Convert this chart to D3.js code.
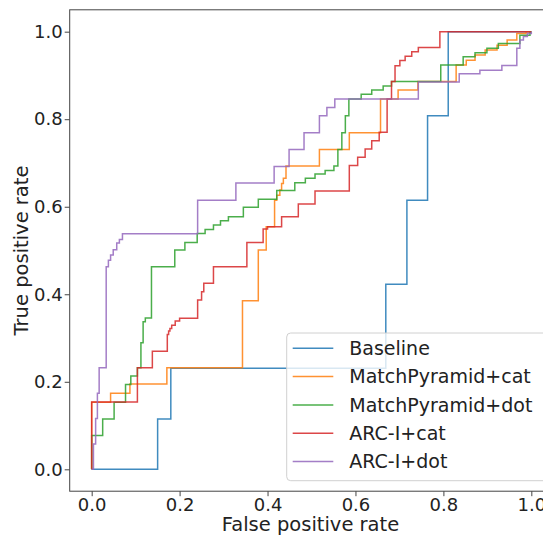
<!DOCTYPE html>
<html>
<head>
<meta charset="utf-8">
<script src="https://cdn.jsdelivr.net/npm/d3@7"></script>
<style>
  body { margin: 0; background: #fff; }
  svg { display: block; font-family: "DejaVu Sans", sans-serif; }
</style>
</head>
<body>
<svg></svg>
<script>
var width = 543;
var height = 536;

// ROC points [fpr, tpr]
var baseline = [
  [0, 0], [0.15, 0], [0.15, 0.115], [0.18, 0.115], [0.18, 0.231], [0.669, 0.231],
  [0.669, 0.423], [0.717, 0.423], [0.717, 0.615], [0.764, 0.615], [0.764, 0.808],
  [0.811, 0.808], [0.811, 1], [1, 1]
];

var mpCat = [
  [0, 0], [0, 0.153], [0.043, 0.153], [0.043, 0.174], [0.087, 0.174], [0.087, 0.195],
  [0.171, 0.195], [0.171, 0.232], [0.343, 0.232], [0.343, 0.385], [0.379, 0.385],
  [0.379, 0.501], [0.397, 0.501], [0.397, 0.554], [0.416, 0.554], [0.416, 0.615],
  [0.421, 0.615], [0.421, 0.626], [0.428, 0.626], [0.428, 0.638], [0.432, 0.638],
  [0.432, 0.653], [0.436, 0.653], [0.436, 0.665], [0.442, 0.665], [0.442, 0.693],
  [0.518, 0.693], [0.518, 0.731], [0.586, 0.731], [0.586, 0.769], [0.657, 0.769],
  [0.657, 0.846], [0.697, 0.846], [0.697, 0.867], [0.742, 0.867], [0.742, 0.886],
  [0.829, 0.886], [0.829, 0.924], [0.852, 0.924], [0.852, 0.935], [0.872, 0.935],
  [0.872, 0.947], [0.895, 0.947], [0.895, 0.958], [0.922, 0.958], [0.922, 0.969],
  [0.945, 0.969], [0.945, 0.981], [0.967, 0.981], [0.967, 0.996], [0.988, 0.996],
  [0.988, 1], [1, 1]
];

var mpDot = [
  [0, 0], [0, 0.077], [0.025, 0.077], [0.025, 0.115], [0.051, 0.115], [0.051, 0.153],
  [0.077, 0.153], [0.077, 0.194], [0.089, 0.194], [0.089, 0.213], [0.104, 0.213],
  [0.104, 0.232], [0.112, 0.232], [0.112, 0.289], [0.117, 0.289], [0.117, 0.337],
  [0.122, 0.337], [0.122, 0.346], [0.136, 0.346], [0.136, 0.463], [0.189, 0.463],
  [0.189, 0.501], [0.212, 0.501], [0.212, 0.518], [0.240, 0.518], [0.240, 0.539],
  [0.258, 0.539], [0.258, 0.548], [0.277, 0.548], [0.277, 0.558], [0.293, 0.558],
  [0.293, 0.568], [0.311, 0.568], [0.311, 0.577], [0.345, 0.577], [0.345, 0.599],
  [0.379, 0.599], [0.379, 0.617], [0.421, 0.617], [0.421, 0.637], [0.462, 0.637],
  [0.462, 0.655], [0.486, 0.655], [0.486, 0.665], [0.508, 0.665], [0.508, 0.675],
  [0.531, 0.675], [0.531, 0.683], [0.551, 0.683], [0.551, 0.693], [0.560, 0.693],
  [0.560, 0.731], [0.569, 0.731], [0.569, 0.769], [0.577, 0.769], [0.577, 0.808],
  [0.585, 0.808], [0.585, 0.846], [0.613, 0.846], [0.613, 0.857], [0.637, 0.857],
  [0.637, 0.867], [0.663, 0.867], [0.663, 0.876], [0.682, 0.876], [0.682, 0.886],
  [0.794, 0.886], [0.794, 0.924], [0.845, 0.924], [0.845, 0.943], [0.872, 0.943],
  [0.872, 0.952], [0.899, 0.952], [0.899, 0.962], [0.925, 0.962], [0.925, 0.973],
  [0.974, 0.973], [0.974, 0.992], [0.997, 0.992], [0.997, 1], [1, 1]
];

var arcCat = [
  [0, 0], [0, 0.154], [0.104, 0.154], [0.104, 0.232], [0.138, 0.232], [0.138, 0.270],
  [0.172, 0.270], [0.172, 0.308], [0.175, 0.308], [0.175, 0.316], [0.178, 0.316],
  [0.178, 0.322], [0.182, 0.322], [0.182, 0.329], [0.190, 0.329], [0.190, 0.339],
  [0.200, 0.339], [0.200, 0.345], [0.241, 0.345], [0.241, 0.387], [0.250, 0.387],
  [0.250, 0.406], [0.255, 0.406], [0.255, 0.425], [0.277, 0.425], [0.277, 0.463],
  [0.353, 0.463], [0.353, 0.518], [0.390, 0.518], [0.390, 0.549], [0.400, 0.549],
  [0.400, 0.554], [0.432, 0.554], [0.432, 0.577], [0.470, 0.577], [0.470, 0.606],
  [0.508, 0.606], [0.508, 0.636], [0.586, 0.636], [0.586, 0.694], [0.605, 0.694],
  [0.605, 0.713], [0.622, 0.713], [0.622, 0.732], [0.637, 0.732], [0.637, 0.751],
  [0.654, 0.751], [0.654, 0.770], [0.672, 0.770], [0.672, 0.846], [0.682, 0.846],
  [0.682, 0.886], [0.690, 0.886], [0.690, 0.922], [0.701, 0.922], [0.701, 0.934],
  [0.713, 0.934], [0.713, 0.944], [0.728, 0.944], [0.728, 0.954], [0.743, 0.954],
  [0.743, 0.964], [0.792, 0.964], [0.792, 1], [1, 1]
];

var arcDot = [
  [0, 0], [0.004, 0], [0.004, 0.058], [0.009, 0.058], [0.009, 0.116], [0.013, 0.116],
  [0.013, 0.174], [0.017, 0.174], [0.017, 0.232], [0.033, 0.232], [0.033, 0.463],
  [0.038, 0.463], [0.038, 0.478], [0.043, 0.478], [0.043, 0.490], [0.049, 0.490],
  [0.049, 0.502], [0.057, 0.502], [0.057, 0.517], [0.063, 0.517], [0.063, 0.525],
  [0.070, 0.525], [0.070, 0.538], [0.241, 0.538], [0.241, 0.615], [0.328, 0.615],
  [0.328, 0.654], [0.415, 0.654], [0.415, 0.692], [0.449, 0.692], [0.449, 0.731],
  [0.483, 0.731], [0.483, 0.769], [0.518, 0.769], [0.518, 0.808], [0.535, 0.808],
  [0.535, 0.827], [0.553, 0.827], [0.553, 0.846], [0.743, 0.846], [0.743, 0.885],
  [0.836, 0.885], [0.836, 0.904], [0.883, 0.904], [0.883, 0.912], [0.933, 0.912],
  [0.933, 0.923], [0.967, 0.923], [0.967, 0.962], [0.974, 0.962], [0.974, 0.981],
  [0.982, 0.981], [0.982, 0.989], [0.991, 0.989], [0.991, 0.996], [1, 0.996], [1, 1]
];

var labels = ["Baseline", "MatchPyramid+cat", "MatchPyramid+dot", "ARC-I+cat", "ARC-I+dot"];
var curves = [baseline, mpCat, mpDot, arcCat, arcDot];
var colors = ["#1f77b4", "#ff7f0e", "#2ca02c", "#d62728", "#9467bd"];
var tickValues = [0, 0.2, 0.4, 0.6, 0.8, 1.0];

var svg = d3.select("svg")
            .attr("width", width)
            .attr("height", height);

var x = d3.scaleLinear().domain([-0.05, 1.05]).range([69.7, 553.3]);
var y = d3.scaleLinear().domain([-0.05, 1.05]).range([491.2, 9.8]);

var line = d3.line()
             .x(d => x(d[0]))
             .y(d => y(d[1]));

svg.selectAll("path.roc")
   .data(curves)
   .enter()
   .append("path")
     .attr("class", "roc")
     .attr("d", line)
     .attr("fill", "none")
     .attr("stroke", (d, i) => colors[i])
     .attr("stroke-width", 1.5)
     .attr("stroke-opacity", 0.85);

// axes
svg.append("g")
   .attr("transform", "translate(0," + y(-0.05) + ")")
   .call(d3.axisBottom(x)
           .tickValues(tickValues)
           .tickFormat(d3.format(".1f"))
           .tickSize(5)
           .tickSizeOuter(0)
           .tickPadding(2));

svg.append("g")
   .attr("transform", "translate(" + x(-0.05) + ",0)")
   .call(d3.axisLeft(y)
           .tickValues(tickValues)
           .tickFormat(d3.format(".1f"))
           .tickSize(5)
           .tickSizeOuter(0)
           .tickPadding(2));

svg.selectAll(".tick text")
   .attr("font-size", 18)
   .attr("font-family", "DejaVu Sans")
   .attr("fill", "#222");
svg.selectAll(".tick line").attr("stroke", "#444");
svg.selectAll(".domain").remove();

// frame
svg.append("rect")
   .attr("x", x(-0.05))
   .attr("y", y(1.05))
   .attr("width", x(1.05) - x(-0.05))
   .attr("height", y(-0.05) - y(1.05))
   .attr("fill", "none")
   .attr("stroke", "#444")
   .attr("stroke-width", 1);

svg.append("text")
   .attr("x", x(0.5) - 1)
   .attr("y", 531)
   .attr("text-anchor", "middle")
   .attr("font-size", 19.5)
   .attr("fill", "#222")
   .text("False positive rate");

svg.append("text")
   .attr("transform", "translate(28," + y(0.5) + ") rotate(-90)")
   .attr("text-anchor", "middle")
   .attr("font-size", 19.5)
   .attr("fill", "#222")
   .text("True positive rate");

// legend
var legend = svg.append("g");

legend.append("rect")
      .attr("x", 286.7)
      .attr("y", 333)
      .attr("width", 262)
      .attr("height", 147.7)
      .attr("rx", 4)
      .attr("fill", "#fff")
      .attr("fill-opacity", 0.8)
      .attr("stroke", "#d0d0d0");

var rows = legend.selectAll("g.row")
                 .data(labels)
                 .enter()
                 .append("g")
                   .attr("class", "row")
                   .attr("transform", (d, i) => "translate(0," + (348.3 + i * 28.3) + ")");

rows.append("line")
    .attr("x1", 292.7)
    .attr("x2", 333.3)
    .attr("stroke", (d, i) => colors[i])
    .attr("stroke-width", 1.5)
    .attr("stroke-opacity", 0.85);

rows.append("text")
    .attr("x", 349.3)
    .attr("dy", "0.36em")
    .attr("font-size", 19)
    .attr("fill", "#222")
    .text(d => d);
</script>
</body>
</html>
